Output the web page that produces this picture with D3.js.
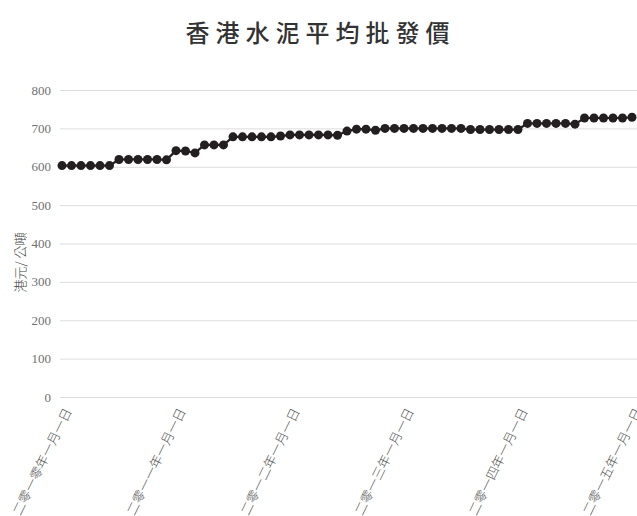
<!DOCTYPE html>
<html>
<head>
<meta charset="utf-8">
<script src="https://cdn.jsdelivr.net/npm/d3@7"></script>
<style>
  body { margin: 0; background: #fff; }
  svg { display: block; }
</style>
</head>
<body>
<div id="chart"></div>
<script>
// monthly average price, Jan 2010 .. Jan 2015 (HK$ / tonne)
var prices = [
  603, 603, 603, 603, 603, 603,
  619, 619, 619, 619, 619, 618,
  642, 641, 636, 657, 657, 657,
  678, 678, 678, 678, 678, 680,
  683, 683, 683, 683, 683, 682,
  693, 698, 698, 695, 700, 700,
  700, 700, 700, 700, 700, 700,
  700, 697, 697, 697, 697, 697,
  697, 713, 713, 713, 713, 713,
  711, 727, 727, 727, 727, 727,
  729
];
var tickIndex = [0, 12, 24, 36, 48, 60];
var tickLabels = ["二零一零年一月一日", "二零一一年一月一日", "二零一二年一月一日",
                  "二零一三年一月一日", "二零一四年一月一日", "二零一五年一月一日"];
var yTicks = [0, 100, 200, 300, 400, 500, 600, 700, 800];
var title = "香港水泥平均批發價";
var yTitle = "港元/ 公噸";

var width = 637, height = 516;
var margin = {top: 90, right: 5, bottom: 119, left: 62};

var svg = d3.select("#chart").append("svg")
    .attr("width", width)
    .attr("height", height);

var x = d3.scaleLinear().domain([0, prices.length - 1]).range([margin.left, width - margin.right]);
var y = d3.scaleLinear().domain([0, 800]).range([height - margin.bottom, margin.top]);

// gridlines
svg.append("g")
    .selectAll("line")
    .data(yTicks)
    .enter().append("line")
    .attr("x1", 60)
    .attr("x2", width)
    .attr("y1", function (d) { return y(d) + 0.5; })
    .attr("y2", function (d) { return y(d) + 0.5; })
    .attr("stroke", "#dcdcdc")
    .attr("stroke-width", 1);

// y tick labels
svg.append("g")
    .selectAll("text")
    .data(yTicks)
    .enter().append("text")
    .attr("x", 51)
    .attr("y", function (d) { return y(d); })
    .attr("dy", "0.35em")
    .attr("text-anchor", "end")
    .style("font-family", "'Liberation Serif', 'DejaVu Serif', serif")
    .style("font-size", "13px")
    .style("fill", "#707070")
    .text(function (d) { return d; });

// x tick labels
svg.append("g")
    .selectAll("text")
    .data(tickIndex)
    .enter().append("text")
    .attr("transform", function (d, i) {
        return "translate(" + (x(d) + 6) + "," + (height - margin.bottom + 12) + ") rotate(-64)";
    })
    .attr("text-anchor", "end")
    .attr("dy", "0.35em")
    .style("font-family", "'Noto Sans CJK TC', 'Noto Sans CJK SC', sans-serif")
    .style("font-weight", "300")
    .style("font-size", "13px")
    .style("fill", "#555")
    .text(function (d, i) { return tickLabels[i]; });

// y axis title
svg.append("text")
    .attr("transform", "translate(25," + (y(400) + 19) + ") rotate(-90)")
    .attr("text-anchor", "middle")
    .style("font-family", "'Noto Sans CJK TC', sans-serif")
    .style("font-weight", "300")
    .style("font-size", "13px")
    .style("fill", "#444")
    .text(yTitle);

// title
svg.append("text")
    .attr("x", width / 2 + 2)
    .attr("y", 42)
    .attr("text-anchor", "middle")
    .style("font-family", "'Noto Sans CJK TC', sans-serif")
    .style("font-weight", "500")
    .style("font-size", "24px")
    .style("letter-spacing", "6px")
    .style("fill", "#333")
    .text(title);

// line and dots
var line = d3.line()
    .x(function (d, i) { return x(i); })
    .y(function (d) { return y(d); });

svg.append("path")
    .datum(prices)
    .attr("d", line)
    .attr("fill", "none")
    .attr("stroke", "#231f20")
    .attr("stroke-width", 2.2);

svg.append("g")
    .selectAll("circle")
    .data(prices)
    .enter().append("circle")
    .attr("cx", function (d, i) { return x(i); })
    .attr("cy", function (d) { return y(d); })
    .attr("r", 4.5)
    .attr("fill", "#231f20");
</script>
</body>
</html>
